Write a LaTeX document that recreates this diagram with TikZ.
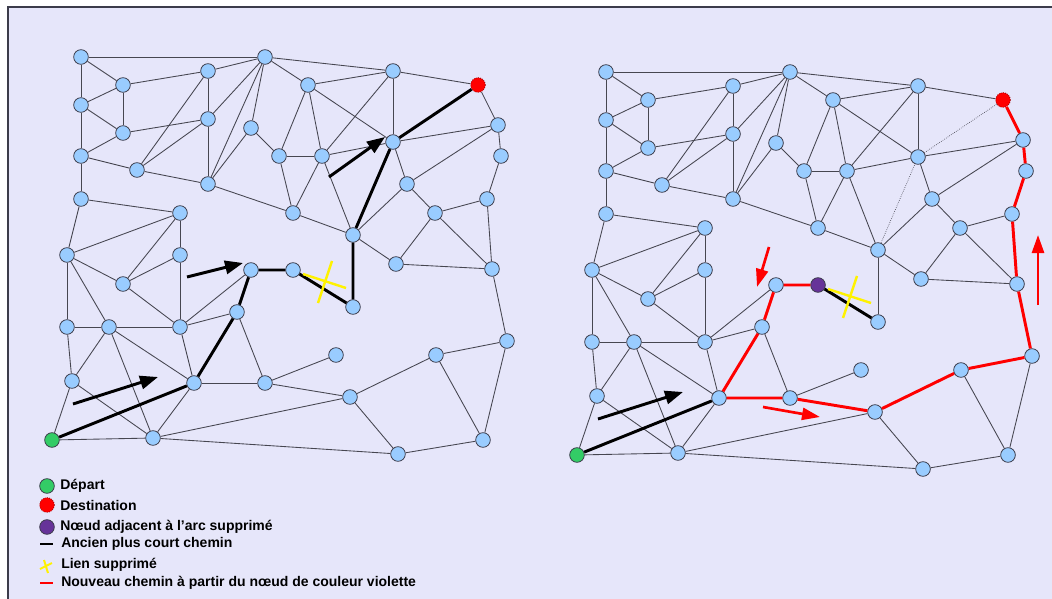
\documentclass[tikz,border=0pt]{standalone}
\usepackage{fontspec}
\setmainfont{Liberation Sans}
\usetikzlibrary{arrows.meta,positioning}
\definecolor{fond}{RGB}{230,230,250}
\definecolor{bleu}{RGB}{153,204,255}
\definecolor{vert}{RGB}{51,204,102}
\definecolor{rouge}{RGB}{255,0,0}
\definecolor{violet}{RGB}{102,51,153}
\definecolor{contour}{RGB}{60,60,75}
\definecolor{trait}{RGB}{70,70,80}
\begin{document}
\begin{tikzpicture}[x=0.75pt,y=-0.75pt]

\tikzset{sommet/.style={circle, fill=bleu, draw=contour, line width=0.6pt, minimum size=11pt, inner sep=0pt}}
\tikzset{depart/.style={sommet, fill=vert}}
\tikzset{arrivee/.style={sommet, fill=rouge, draw=rouge!60!black, densely dotted}}
\tikzset{adjacent/.style={sommet, fill=violet}}
\tikzset{arete/.style={draw=trait, line width=0.65pt}}
\tikzset{pointille/.style={draw=trait, line width=0.5pt, densely dotted}}
\tikzset{chemin/.style={draw=black, line width=2.2pt}}
\tikzset{nouveau/.style={draw=rouge, line width=2.2pt, line join=round}}
\tikzset{croix/.style={draw=yellow, line width=1.8pt}}
\tikzset{fleche/.style={draw=black, line width=2.2pt, -{Triangle[length=13.5pt,width=10pt]}}}
\tikzset{flecherouge/.style={draw=rouge, line width=2pt, -{Triangle[length=13.5pt,width=9pt]}}}
\tikzset{legende/.style={anchor=west, inner sep=0pt, font=\bfseries\fontsize{10.5}{12}\selectfont}}

\useasboundingbox (0,0) rectangle (1052,599);
\fill[white] (0,0) rectangle (1052,599);
\fill[fond] (8,7) rectangle (1052,599);
\draw[draw=contour, line width=1pt] (8,599) -- (8,7) -- (1052,7);

% les deux graphes : g = avant, d = apres suppression du lien
\foreach \g/\dx/\dy in {g/0/0, d/525/15} {
  \begin{scope}[shift={(\dx,\dy)}]
  \foreach \nom/\px/\py in {a/81/57, b/123/85, c/208/71, d/265/57, e/81/105, f/123/133,
      g/208/119, h/251/128, i/81/156, j/137/170, k/208/184, l/279/156, m/81/199,
      n/180/213, o/293/213, p/393/71, r/308/85, s/393/142, t/498/125, u/322/156,
      v/501/156, w/407/184, x/487/199, y/435/213, z/353/235, A/67/255, B/180/255,
      C/123/284, D/251/270, F/67/327, G/109/327, H/180/327, I/237/312, J/72/381,
      K/194/383, L/265/383, M/153/438, N/396/264, O/492/269, P/353/307, Q/336/355,
      R/507/341, T/436/355, U/350/397, V/483/440, W/398/454}
    \node[sommet] (\g\nom) at (\px,\py) {};
  \node[depart] (\g S) at (52,440) {};
  \node[arrivee] (\g q) at (478,85) {};
  \end{scope}
}
\node[sommet] (gE) at (293,270) {};
\node[adjacent] (dE) at (818,285) {};

\foreach \g in {g,d}
  \foreach \u/\v in {a/d, a/b, a/e, b/c, b/f, e/b, e/f, f/g, e/i, i/f, i/j, i/m, c/j,
      c/g, g/j, j/k, g/k, d/c, d/g, d/k, d/h, h/k, d/r, d/p, h/l, l/u, l/o, k/o, m/n,
      o/u, m/A, A/n, n/C, n/B, r/p, p/q, p/s, r/s, p/u, r/l, r/u, u/z, u/s, s/t, t/w,
      s/w, w/y, x/y, w/z, o/z, y/N, y/O, z/N, N/O, Q/L, M/U, M/W, U/W, T/V, R/V, V/W,
      B/C, A/C, A/F, A/G, C/H, B/H, F/G, G/H, H/D, H/I, I/L, F/J, G/J, G/M, G/K, H/K,
      J/S, J/M, S/M, K/M}
    \draw[arete] (\g\u) -- (\g\v);

% graphe de gauche
\foreach \u/\v in {K/L, L/U, U/T, T/R, R/O, O/x, x/v, v/t, t/q}
  \draw[arete] (g\u) -- (g\v);
\draw[chemin] (gS) -- (gK) -- (gI) -- (gD) -- (gE) -- (gP) -- (gz) -- (gs) -- (gq);
\coordinate (gX) at (325,282);
\draw[croix, shift={(gX)}] (-22,-8) -- (21,6) (7,-21) -- (-7,21);
\draw[fleche] (73,404) -- (158,377);
\draw[fleche] (187,277) -- (243,263);
\draw[fleche] (329,177) -- (385,137);

% graphe de droite
\draw[arete] (dP) -- (dz);
\draw[pointille] (dz) -- (ds) -- (dq);
\draw[chemin] (dS) -- (dK);
\draw[chemin] (dE) -- (dP);
\draw[nouveau] (dE) -- (dD) -- (dI) -- (dK) -- (dL) -- (dU) -- (dT) -- (dR) -- (dO) -- (dx) -- (dv) -- (dt) -- (dq);
\coordinate (dX) at (850,297);
\draw[croix, shift={(dX)}] (-22,-8) -- (21,6) (7,-21) -- (-7,21);
\draw[fleche] (598,419) -- (683,392);
\draw[flecherouge] (769,247) -- (757,287);
\draw[flecherouge] (763,407) -- (820,417);
\draw[flecherouge] (1038,305) -- (1038,235);

% legende
\node[depart] (ldepart) at (47,486) {};
\node[legende, right=4pt of ldepart] {Départ};
\node[arrivee] (larrivee) at (47,505) {};
\node[legende, right=4pt of larrivee] {Destination};
\node[adjacent] (ladjacent) at (47,527) {};
\node[legende, right=4pt of ladjacent] {Nœud adjacent à l'arc supprimé};
\draw[chemin] (40,544) -- (53,544);
\node[legende] at (61,544) {Ancien plus court chemin};
\draw[croix, line width=1.5pt] (40,569) -- (52,563) (44,560) -- (48,573);
\node[legende] at (61,565) {Lien supprimé};
\draw[nouveau] (40,583) -- (53,583);
\node[legende] at (61,583) {Nouveau chemin à partir du nœud de couleur violette};

\end{tikzpicture}
\end{document}
